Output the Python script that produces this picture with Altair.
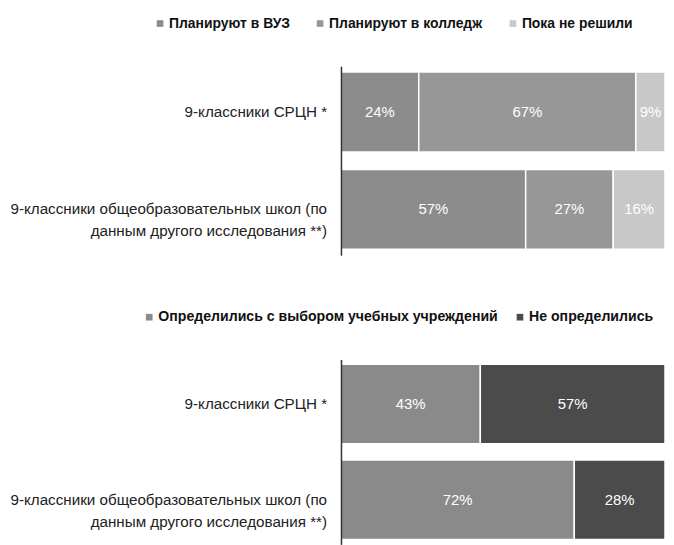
import altair as alt
import pandas as pd

groups = ["9-классники СРЦН *", "9-классники общеобразовательных школ (по|данным другого исследования **)"]

top_cats = ["Планируют в ВУЗ", "Планируют в колледж", "Пока не решили"]
top_vals = {
    groups[0]: [24, 67, 9],
    groups[1]: [57, 27, 16],
}
top_colors = ["#8c8c8c", "#979797", "#c8c8c8"]

bot_cats = ["Определились с выбором учебных учреждений", "Не определились"]
bot_vals = {
    groups[0]: [43, 57],
    groups[1]: [72, 28],
}
bot_colors = ["#8a8a8a", "#4b4b4b"]

FONT = "Liberation Sans"


def make_df(cats, vals):
    rows = []
    for g in groups:
        for i, (c, v) in enumerate(zip(cats, vals[g])):
            rows.append({"group": g, "cat": c, "value": v, "order": i})
    return pd.DataFrame(rows)


def panel(cats, vals, colors, height, pi, po, legend_x, legend_y, col_pad, lfs):
    df = make_df(cats, vals)
    base = alt.Chart(df).transform_stack(
        stack="value", groupby=["group"], sort=[alt.SortField("order")], as_=["x0", "x1"]
    ).transform_calculate(mid="(datum.x0 + datum.x1) / 2", lbl="datum.value + '%'")

    yenc = alt.Y(
        "group:N",
        sort=groups,
        scale=alt.Scale(paddingInner=pi, paddingOuter=po),
        axis=alt.Axis(labels=False, ticks=False, title=None, domainColor="#333333",
                      domainWidth=1.5, zindex=2),
    )
    bars = base.mark_bar(stroke="white", strokeWidth=1.5).encode(
        y=yenc,
        x=alt.X("x0:Q", scale=alt.Scale(domain=[0, 100]), axis=None),
        x2="x1:Q",
        color=alt.Color(
            "cat:N",
            sort=cats,
            scale=alt.Scale(domain=cats, range=colors),
            legend=alt.Legend(
                title=None,
                orient="none",
                direction="horizontal",
                legendX=legend_x,
                legendY=legend_y,
                symbolType="square",
                symbolSize=45,
                symbolStrokeWidth=0,
                labelFont=FONT,
                labelFontSize=lfs,
                labelFontWeight="bold",
                labelColor="#111111",
                labelOffset=2,
                columnPadding=col_pad,
                labelLimit=450,
                symbolOffset=0,
            ),
        ),
    )
    texts = base.mark_text(color="white", font=FONT, fontSize=15).encode(
        y=alt.Y("group:N", sort=groups),
        x=alt.X("mid:Q"),
        text="lbl:N",
    )
    cat_labels = alt.Chart(pd.DataFrame({"group": groups})).mark_text(
        align="right", baseline="middle", font=FONT, fontSize=15.3, color="#222222",
        lineBreak="|", lineHeight=22,
    ).encode(
        y=alt.Y("group:N", sort=groups),
        x=alt.value(-14),
        text="group:N",
    )
    return alt.layer(bars, texts, cat_labels).properties(width=326, height=height)


top = panel(top_cats, top_vals, top_colors, 190, 0.18, 0.06, -189, -50, 23, 14)
bot = panel(bot_cats, bot_vals, bot_colors, 186, 0.17, 0.05, -200, -50, 15, 14.2)

chart = alt.vconcat(top, bot, spacing=55).resolve_scale(color="independent").configure_view(
    strokeWidth=0
).properties(padding={"left": 2, "top": 7, "right": 0, "bottom": 0})

chart.save("out.html", embed_options={"renderer": "svg", "actions": False})
